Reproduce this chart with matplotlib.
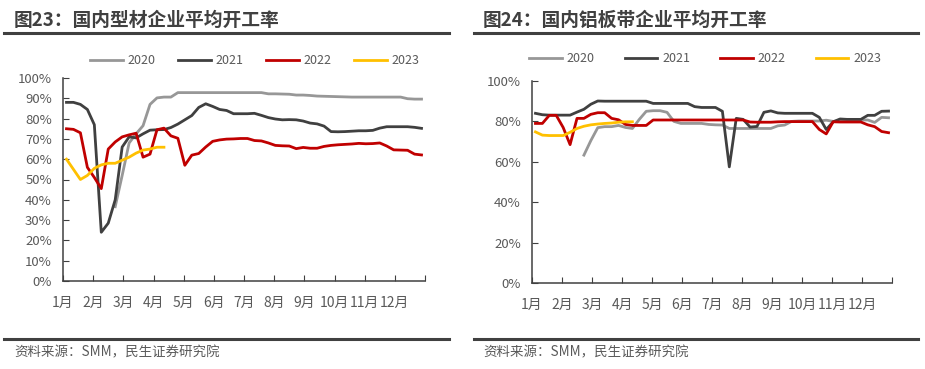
import numpy as np
import matplotlib.pyplot as plt
from matplotlib.lines import Line2D

plt.rcParams['font.family'] = ['Noto Sans CJK SC', 'DejaVu Sans']

nan = np.nan

# weekly data, week 0..51
years = ['2020', '2021', '2022', '2023']
month_labels = ['1月', '2月', '3月', '4月', '5月', '6月', '7月', '8月', '9月', '10月', '11月', '12月']

# 图23 型材
profile_2020 = [nan] * 7 + [36.6, 52, 68, 72.5, 76.5, 87, 90.2, 90.6, 90.6, 92.8,
                            92.8, 92.8, 92.8, 92.8, 92.8, 92.8, 92.8, 92.8, 92.8, 92.8, 92.8, 92.8,
                            92.2, 92.2, 92.1, 92.0, 91.6, 91.6, 91.4, 91.1, 91.0, 90.9, 90.8, 90.7,
                            90.6, 90.6, 90.6, 90.6, 90.6, 90.6, 90.6, 90.6, 89.8, 89.6, 89.6]
profile_2021 = [88, 88, 87, 84.5, 77, 24, 28.5, 40, 66, 71, 70.5, 72.5, 74.3, 74.5, 74.6,
                75.6, 77.3, 79.4, 81.5, 85.5, 87.3, 86, 84.5, 84, 82.4, 82.4, 82.4, 82.6,
                81.6, 80.5, 79.8, 79.4, 79.5, 79.4, 78.8, 77.8, 77.4, 76.3, 73.6, 73.5,
                73.6, 73.8, 74, 74, 74.2, 75.3, 76, 76, 76, 76, 75.7, 75.2]
profile_2022 = [75, 74.7, 73, 56, 51, 45.5, 65, 68.5, 71, 72, 72.8, 61, 62.5, 74.5, 75.3,
                71.5, 70.3, 57, 62, 62.8, 66, 68.8, 69.5, 69.9, 70, 70.2, 70.2, 69.2, 69,
                68, 66.8, 66.6, 66.5, 65.2, 65.8, 65.4, 65.4, 66.3, 66.8, 67.1, 67.3, 67.5,
                67.8, 67.6, 67.7, 68, 66.5, 64.6, 64.5, 64.4, 62.5, 62.1]
profile_2023 = [60, 55, 50, 52, 55.5, 57.2, 58, 58, 59.5, 61, 63, 64.5, 65, 65.9, 65.9] + [nan] * 37

# 图24 铝板带
sheet_2020 = [nan] * 7 + [63.3, 70.5, 76.9, 77.4, 77.4, 78, 77, 76.5, 81, 85, 85.3, 85.3,
                          84.5, 80, 79, 79, 79, 79, 78.5, 78.3, 78.2, 76.5, 76.5, 76.5, 76.5,
                          76.5, 76.5, 76.5, 77.8, 78.2, 80, 80.2, 80.2, 80.2, 80.2, 80.6, 80,
                          80.3, 80.7, 80.7, 80.7, 80.7, 79.5, 82, 81.8]
sheet_2021 = [84, 83.3, 83.1, 83.1, 83.1, 83.1, 84.6, 86, 88.5, 90.1, 90, 90, 90, 90, 90,
              90, 90, 88.9, 88.9, 88.9, 88.9, 88.9, 88.9, 87.3, 86.9, 86.9, 86.9, 85,
              57.5, 81.5, 81, 77.2, 77.5, 84.5, 85.2, 84.2, 84, 84, 84, 84, 84, 82, 76,
              79.8, 81.2, 81, 81, 81, 83, 83, 85, 85.1]
sheet_2022 = [79, 79, 83, 83, 77, 68.5, 81.5, 81.5, 83.5, 84.3, 84.3, 81.5, 80.8, 78.5, 78,
              78, 78, 80.7, 80.7, 80.7, 80.7, 80.7, 80.7, 80.7, 80.7, 80.7, 80.7, 80.7,
              80.7, 80.7, 80.7, 79.7, 79.6, 79.6, 79.6, 79.8, 79.9, 79.9, 79.9, 79.9,
              79.9, 76, 73.8, 79.8, 79.7, 79.7, 79.7, 79.7, 78.3, 77.4, 75, 74.4]
sheet_2023 = [74.8, 73.2, 73, 73, 73, 74.6, 76.5, 77.6, 78.3, 78.7, 79, 79.2, 79.6, 79.8,
              79.8] + [nan] * 37

colors = ['#979797', '#404040', '#C00000', '#FFC000']
text_color = '#595959'
spine_color = '#404040'


def draw_panel(fig, rect, series, yticks, title, title_x, line_x0, line_x1, legend_pos, colspace):
    ax = fig.add_axes(rect)
    weeks = np.arange(52)
    x = (weeks + 0.5) * 12 / 52
    for vals, c, y in zip(series, colors, years):
        ax.plot(x, np.array(vals, dtype=float), color=c, lw=2.0, label=y)
    ax.set_xlim(0, 12)
    ax.set_ylim(0, 100)
    ax.set_xticks(range(13))
    ax.set_xticklabels(month_labels + [''])
    ax.set_yticks(yticks)
    ax.set_yticklabels([f'{v}%' for v in yticks])
    for s in ['top', 'right']:
        ax.spines[s].set_visible(False)
    for s in ['left', 'bottom']:
        ax.spines[s].set_color(spine_color)
        ax.spines[s].set_linewidth(1.1)
    ax.tick_params(axis='x', direction='in', length=4, pad=11, labelsize=10,
                   colors=spine_color, labelcolor=text_color)
    ax.tick_params(axis='y', direction='in', length=4, pad=8, labelsize=9.5,
                   colors=spine_color, labelcolor=text_color)
    ax.legend(loc='center', bbox_to_anchor=legend_pos, bbox_transform=fig.transFigure,
              ncol=4, frameon=False, fontsize=9, handlelength=2.6,
              handletextpad=0.4, columnspacing=colspace, labelcolor=text_color)
    fig.text(title_x, 1 - 20 / 369, title, fontsize=13.5, fontweight='bold',
             color='#404040', va='center', ha='left')
    fig.add_artist(Line2D([line_x0, line_x1], [1 - 33 / 369] * 2, color='#404040', lw=2.2))
    fig.add_artist(Line2D([line_x0, line_x1], [1 - 339 / 369] * 2, color='#404040', lw=2.2))
    fig.text(title_x, 1 - 352 / 369, '资料来源：SMM，民生证券研究院', fontsize=9.7,
             color=text_color, va='center', ha='left')
    return ax


fig = plt.figure(figsize=(9.25, 3.69), dpi=100)

draw_panel(fig, [63 / 925, 1 - 281 / 369, 362 / 925, 203 / 369],
           [profile_2020, profile_2021, profile_2022, profile_2023],
           list(range(0, 101, 10)), '图23：国内型材企业平均开工率',
           14 / 925, 4 / 925, 449 / 925, (255 / 925, 1 - 61 / 369), 1.8)

draw_panel(fig, [532 / 925, 1 - 283 / 369, 360 / 925, 202 / 369],
           [sheet_2020, sheet_2021, sheet_2022, sheet_2023],
           list(range(0, 101, 20)), '图24：国内铝板带企业平均开工率',
           483 / 925, 474 / 925, 918 / 925, (705 / 925, 1 - 59 / 369), 2.4)

fig.savefig('out.png', dpi=100)
